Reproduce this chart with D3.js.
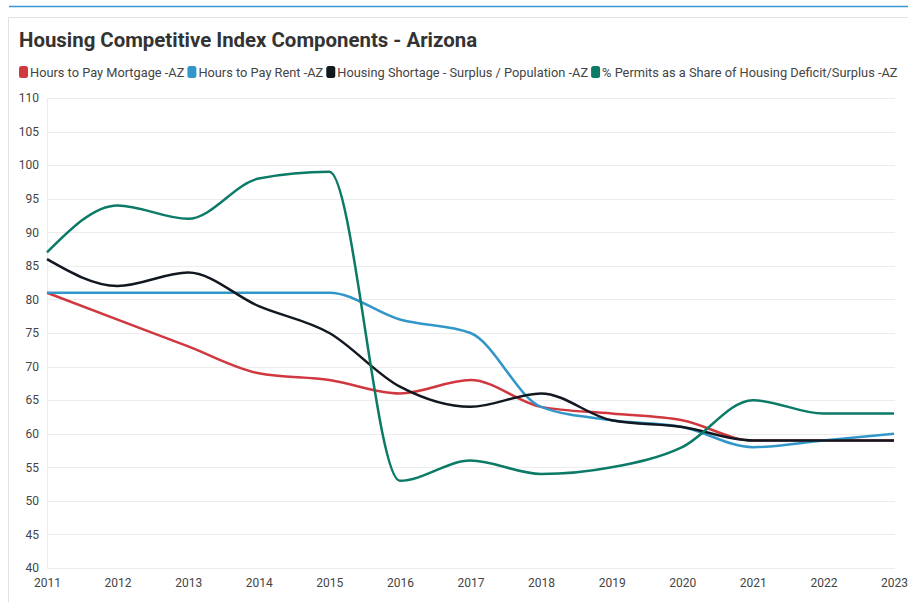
<!DOCTYPE html>
<html>
<head>
<meta charset="utf-8">
<script src="https://cdn.jsdelivr.net/npm/d3@7"></script>
<style>
  body { margin: 0; background: #fff; font-family: Roboto, "Noto Sans", sans-serif; }
  svg { display: block; }
</style>
</head>
<body>
<svg width="908" height="602"></svg>
<script>
// data
var years = [2011, 2012, 2013, 2014, 2015, 2016, 2017, 2018, 2019, 2020, 2021, 2022, 2023];
var mortgage = [81, 77, 73, 69, 68, 66, 68, 64, 63, 62, 59, 59, 59];
var rent = [81, 81, 81, 81, 81, 77, 75, 64, 62, 61, 58, 59, 60];
var shortage = [86, 82, 84, 79, 75, 67, 64, 66, 62, 61, 59, 59, 59];
var permits = [87, 94, 92, 98, 99, 53, 56, 54, 55, 58, 65, 63, 63];
var yTicks = [40, 45, 50, 55, 60, 65, 70, 75, 80, 85, 90, 95, 100, 105, 110];

var series = [
  {name: "Hours to Pay Mortgage -AZ", values: mortgage, color: "#d1373f"},
  {name: "Hours to Pay Rent -AZ", values: rent, color: "#3296c9"},
  {name: "Housing Shortage - Surplus / Population -AZ", values: shortage, color: "#111820"},
  {name: "% Permits as a Share of Housing Deficit/Surplus -AZ", values: permits, color: "#0b7a66"}
];

var svg = d3.select("svg");

// top accent line and card border
svg.append("line").attr("x1", 9).attr("x2", 908).attr("y1", 6.5).attr("y2", 6.5)
  .attr("stroke", "#3a97d4").attr("stroke-width", 1.5);
svg.append("rect").attr("x", 8.5).attr("y", 17.5).attr("width", 910).attr("height", 600)
  .attr("fill", "#fff").attr("stroke", "#e2e2e2");

svg.append("text").attr("x", 19).attr("y", 47)
  .attr("font-size", 20.4).attr("font-weight", "bold").attr("fill", "#333")
  .text("Housing Competitive Index Components - Arizona");

// legend
var lx = 19;
series.forEach(function(s) {
  svg.append("rect").attr("x", lx).attr("y", 66).attr("width", 9).attr("height", 12)
    .attr("rx", 2.5).attr("fill", s.color);
  var t = svg.append("text").attr("x", lx + 11).attr("y", 76.5)
    .attr("font-size", 12.8).attr("fill", "#444").text(s.name);
  lx = lx + 11 + t.node().getComputedTextLength() + 3;
});

var xScale = d3.scaleLinear().domain([2011, 2023]).range([47, 894]);
var yScale = d3.scaleLinear().domain([40, 110]).range([568, 98]);

// grid
svg.append("g").selectAll("line").data(yTicks).enter().append("line")
  .attr("x1", 47).attr("x2", 895)
  .attr("y1", function(d) { return Math.round(yScale(d)) + 0.5; })
  .attr("y2", function(d) { return Math.round(yScale(d)) + 0.5; })
  .attr("stroke", "#ececec");
svg.append("line").attr("x1", 47.5).attr("x2", 47.5).attr("y1", 98).attr("y2", 568)
  .attr("stroke", "#ececec");

var yAxis = d3.axisLeft(yScale).tickValues(yTicks).tickSize(0).tickPadding(8);
svg.append("g").attr("transform", "translate(47,0)").call(yAxis)
  .call(function(g) { g.select(".domain").remove(); })
  .selectAll("text").attr("font-size", 12).attr("fill", "#444")
  .attr("font-family", "Roboto, sans-serif");

var xAxis = d3.axisBottom(xScale).tickValues(years).tickFormat(d3.format("d")).tickSize(0).tickPadding(10);
svg.append("g").attr("transform", "translate(0,568)").call(xAxis)
  .call(function(g) { g.select(".domain").remove(); })
  .selectAll("text").attr("font-size", 12).attr("fill", "#444")
  .attr("font-family", "Roboto, sans-serif");

var line = d3.line()
  .x(function(d, i) { return xScale(years[i]); })
  .y(function(d) { return yScale(d); })
  .curve(d3.curveMonotoneX);

svg.append("g").selectAll("path").data(series).enter().append("path")
  .attr("d", function(s) { return line(s.values); })
  .attr("fill", "none")
  .attr("stroke", function(s) { return s.color; })
  .attr("stroke-width", 2.5);
</script>
</body>
</html>
